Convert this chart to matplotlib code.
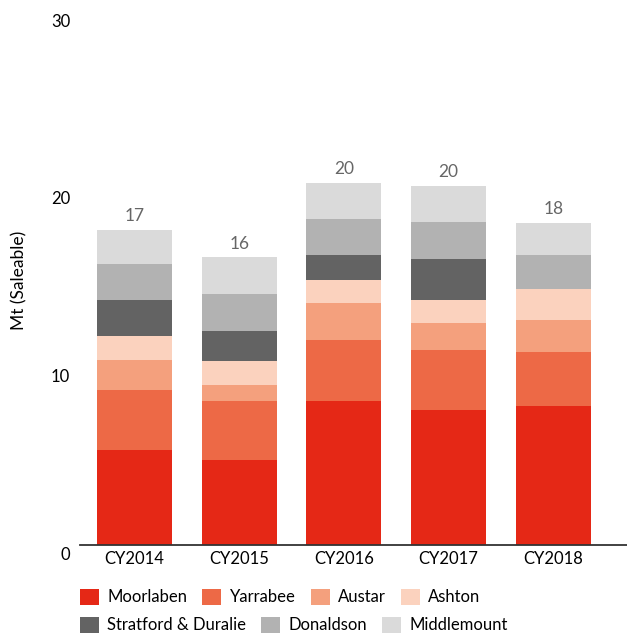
import matplotlib
matplotlib.use("Agg")
import matplotlib.pyplot as plt
import matplotlib.transforms as mtransforms
import numpy as np

plt.rcParams['font.family'] = ['Lato', 'DejaVu Sans']

categories = ["CY2014", "CY2015", "CY2016", "CY2017", "CY2018"]
series_names = ["Moorlaben", "Yarrabee", "Austar", "Ashton",
                "Stratford & Duralie", "Donaldson", "Middlemount"]
moorlaben   = [5.35, 4.79, 8.11, 7.61, 7.83]
yarrabee    = [3.38, 3.32, 3.44, 3.38, 3.04]
austar      = [1.69, 0.90, 2.08, 1.52, 1.80]
ashton      = [1.35, 1.35, 1.30, 1.30, 1.75]
stratford   = [2.03, 1.69, 1.41, 2.31, 0.00]
donaldson   = [2.03, 2.08, 2.03, 2.08, 1.92]
middlemount = [1.92, 2.08, 2.03, 2.03, 1.80]
total_labels = ["17", "16", "20", "20", "18"]
colors = ["#E52816", "#ED6946", "#F4A07D", "#FBD2BE", "#636363", "#B2B2B2", "#DADADA"]

series = [moorlaben, yarrabee, austar, ashton, stratford, donaldson, middlemount]

W, H = 627, 634
fig = plt.figure(figsize=(W / 100, H / 100), dpi=100)
ax = fig.add_axes([80 / W, 1 - 545 / H, (627 - 80) / W, (545 - 12.5) / H])

x = np.arange(len(categories))
bottom = np.zeros(len(categories))
handles = []
for name, vals, c in zip(series_names, series, colors):
    v = np.array(vals)
    b = ax.bar(x, v, bottom=bottom, width=0.716, color=c, label=name, linewidth=0)
    handles.append(b)
    bottom = bottom + v

for xi, tot, lab in zip(x, bottom, total_labels):
    ax.annotate(lab, (xi, tot), xytext=(0, 4), textcoords="offset points",
                ha="center", va="bottom", fontsize=12.5, color="#666666")

ax.set_xlim(-0.52, 4.705)
ax.set_ylim(0, 30)
ax.set_yticks([0, 10, 20, 30])
ax.set_xticks(x)
ax.set_xticklabels(categories, fontsize=12, color="#000000")
ax.tick_params(axis="both", length=0)
ax.tick_params(axis="y", labelsize=12, pad=7)
ax.tick_params(axis="x", pad=4)
offset = mtransforms.ScaledTranslation(0, -8 / 100, fig.dpi_scale_trans)
for lbl in ax.get_yticklabels():
    lbl.set_transform(lbl.get_transform() + offset)

for s in ["top", "right", "left"]:
    ax.spines[s].set_visible(False)
ax.spines["bottom"].set_color("#333333")
ax.spines["bottom"].set_linewidth(1.3)

fig.text(19 / W, 1 - 280 / H, "Mt (Saleable)", rotation=90, ha="center", va="center", fontsize=12.5)

common = dict(frameon=False, fontsize=12, handlelength=1.14, handleheight=1.14,
              handletextpad=0.5, columnspacing=0.9, borderpad=0, borderaxespad=0,
              loc="center left", bbox_transform=fig.transFigure)
leg1 = ax.legend(handles[:4], series_names[:4], ncol=4,
                 bbox_to_anchor=(80 / W, 1 - 597 / H), **common)
ax.add_artist(leg1)
leg2 = ax.legend(handles[4:], series_names[4:], ncol=3,
                 bbox_to_anchor=(80 / W, 1 - 625 / H), **common)

fig.savefig("out.png", dpi=100)
